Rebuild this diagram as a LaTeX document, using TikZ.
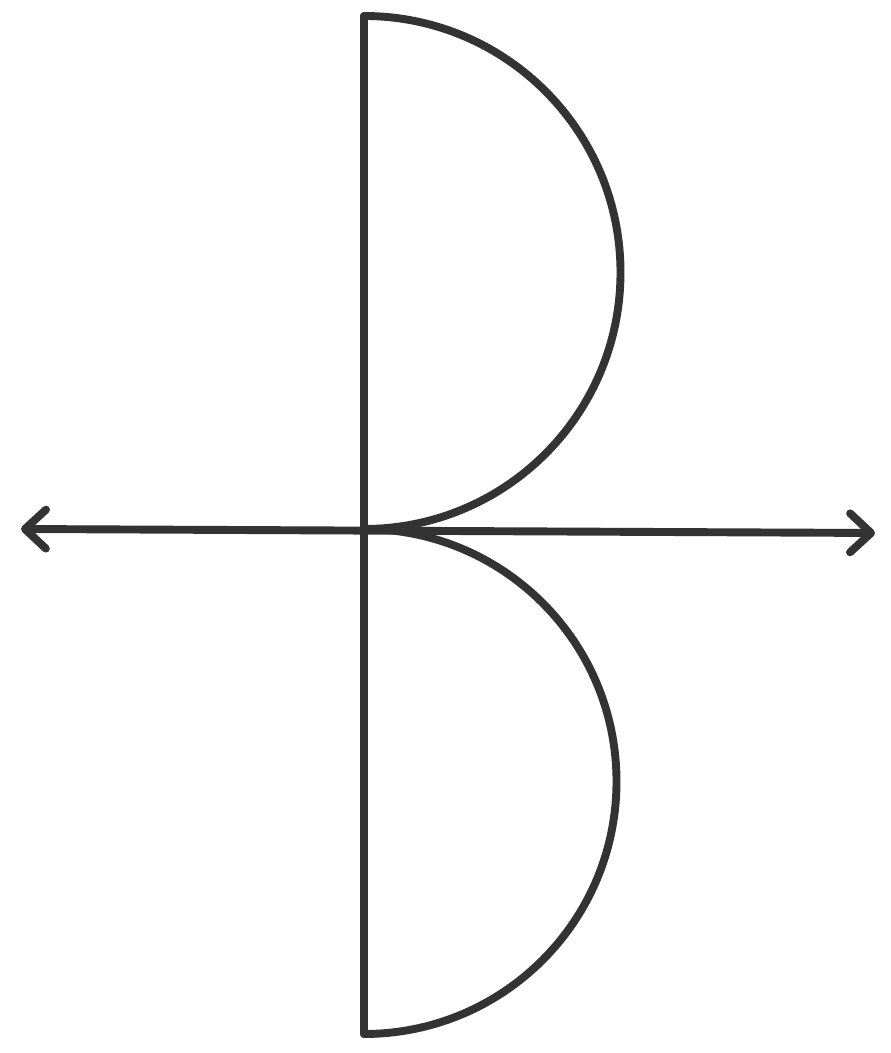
\documentclass[tikz,border=0pt]{standalone}
\usetikzlibrary{arrows.meta}
\definecolor{inkgray}{HTML}{333333}

\tikzset{
  stroke/.style = {draw=inkgray, line width=4.5pt, line cap=round, line join=round},
  axis/.style   = {stroke, {Straight Barb[length=0.42cm, width=0.78cm, round]}-{Straight Barb[length=0.42cm, width=0.78cm, round]}}
}

\begin{document}
\begin{tikzpicture}[x=0.02cm, y=0.02cm]
\useasboundingbox (0,0) rectangle (891,1053);

% points of the figure
\coordinate (top) at (364,1037);
\coordinate (mid) at (364,524);
\coordinate (bot) at (364,19);
\coordinate (left) at (21,524);
\coordinate (right) at (875,520);

% horizontal line with arrows
\draw[axis] (left) -- (right);

% vertical line
\draw[stroke] (top) -- (bot);

% the two half circles
\draw[stroke] (top) arc[start angle=90, end angle=-90, radius=256.5];
\draw[stroke] (mid) arc[start angle=90, end angle=-90, radius=252.5];

\end{tikzpicture}
\end{document}
